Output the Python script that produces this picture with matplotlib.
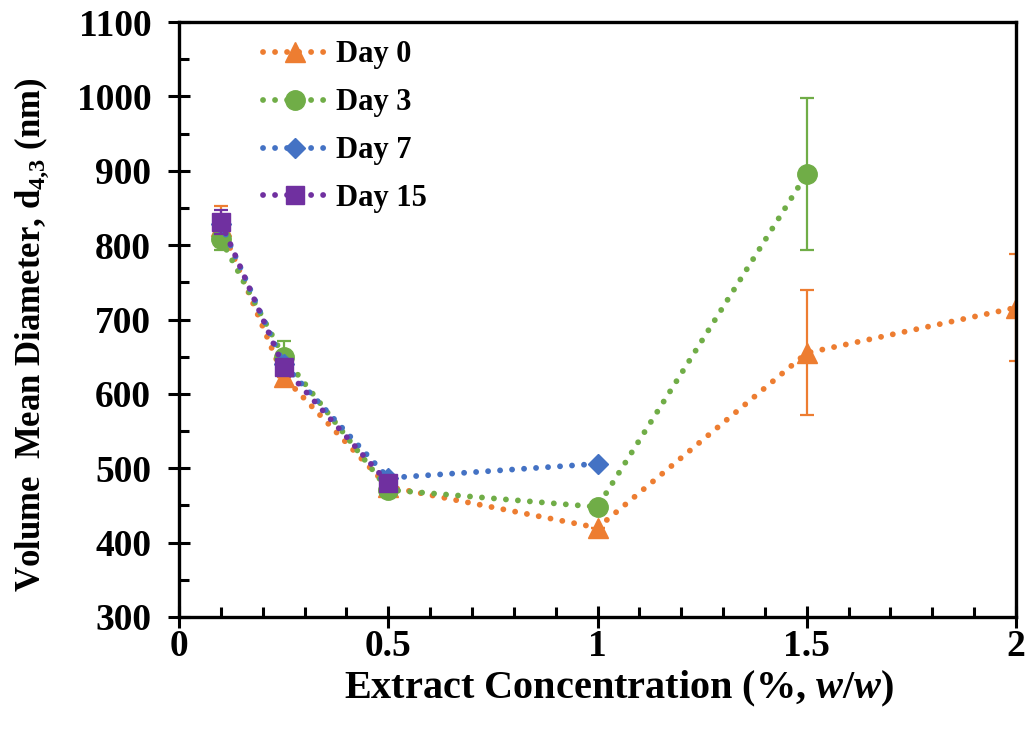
#!/usr/bin/env python3
"""Volume mean diameter vs extract concentration over storage days."""

import matplotlib

matplotlib.use("Agg")
import matplotlib.pyplot as plt
from matplotlib.ticker import MultipleLocator

# data
conc_day0 = [0.1, 0.25, 0.5, 1.0, 1.5, 2.0]
d43_day0 = [826, 623, 475, 420, 655, 716]
err_day0 = [27, 0, 0, 0, 84, 72]

conc_day3 = [0.1, 0.25, 0.5, 1.0, 1.5]
d43_day3 = [808, 650, 471, 448, 896]
err_day3 = [15, 21, 0, 0, 102]

conc_day7 = [0.1, 0.25, 0.5, 1.0]
d43_day7 = [829, 640, 487, 506]

conc_day15 = [0.1, 0.25, 0.5]
d43_day15 = [831, 636, 480]
err_day15 = [16, 0, 0]

plt.rcParams["font.family"] = ["Liberation Serif", "DejaVu Serif"]
plt.rcParams["font.weight"] = "bold"
plt.rcParams["mathtext.fontset"] = "custom"
plt.rcParams["mathtext.rm"] = "Liberation Serif:bold"
plt.rcParams["mathtext.bf"] = "Liberation Serif:bold"
plt.rcParams["mathtext.it"] = "Liberation Serif:italic:bold"

ORANGE = "#ED7D31"
GREEN = "#70AD47"
BLUE = "#4472C4"
PURPLE = "#7030A0"
DOTS = (0, (0.01, 2.05))


def main() -> None:
    fig = plt.figure(figsize=(10.31, 7.35), dpi=100)
    ax = fig.add_axes([179 / 1031, 1 - 617 / 735, (1016 - 179) / 1031, (617 - 22) / 735])

    series = [
        (conc_day0, d43_day0, err_day0, ORANGE, "^", 15, "Day 0"),
        (conc_day3, d43_day3, err_day3, GREEN, "o", 14, "Day 3"),
        (conc_day7, d43_day7, None, BLUE, "D", 10, "Day 7"),
        (conc_day15, d43_day15, err_day15, PURPLE, "s", 13.5, "Day 15"),
    ]
    for x, y, e, col, mk, ms, lab in series:
        if e is not None:
            ax.errorbar(x, y, yerr=e, fmt="none", ecolor=col, elinewidth=1.6,
                        capsize=5, capthick=1.6)
        ax.plot(x, y, color=col, marker=mk, markersize=ms, linestyle=DOTS,
                linewidth=4.2, dash_capstyle="round", label=lab)

    ax.set_xlim(0, 2)
    ax.set_ylim(300, 1100)
    ax.xaxis.set_minor_locator(MultipleLocator(0.1))
    ax.yaxis.set_major_locator(MultipleLocator(100))
    ax.yaxis.set_minor_locator(MultipleLocator(50))
    ax.set_xticks([0, 0.5, 1, 1.5, 2])
    ax.set_xticklabels(["0", "0.5", "1", "1.5", "2"])

    ax.tick_params(which="major", direction="inout", length=16, width=2.2,
                   labelsize=27)
    ax.tick_params(axis="x", which="major", pad=1)
    ax.tick_params(axis="y", which="major", pad=12)
    ax.tick_params(which="minor", direction="in", length=7, width=2.2)
    for sp in ax.spines.values():
        sp.set_linewidth(2.4)

    ax.set_xlabel(r"Extract Concentration (%, $\mathit{w/w}$)", fontsize=29,
                  fontweight="bold")
    ax.xaxis.set_label_coords(0.526, -0.087)
    ax.set_ylabel(r"Volume  Mean Diameter, d$_{4{,}3}$ (nm)", fontsize=25,
                  fontweight="bold")
    ax.yaxis.set_label_coords(-0.153, 0.474)

    leg = ax.legend(loc="upper left", bbox_to_anchor=(0.078, 1.0), frameon=False,
                    fontsize=22, handlelength=2.1, handletextpad=0.3,
                    labelspacing=0.62, borderaxespad=0.2)
    for t in leg.get_texts():
        t.set_fontweight("bold")

    fig.savefig("out.png", dpi=100)


if __name__ == "__main__":
    main()
